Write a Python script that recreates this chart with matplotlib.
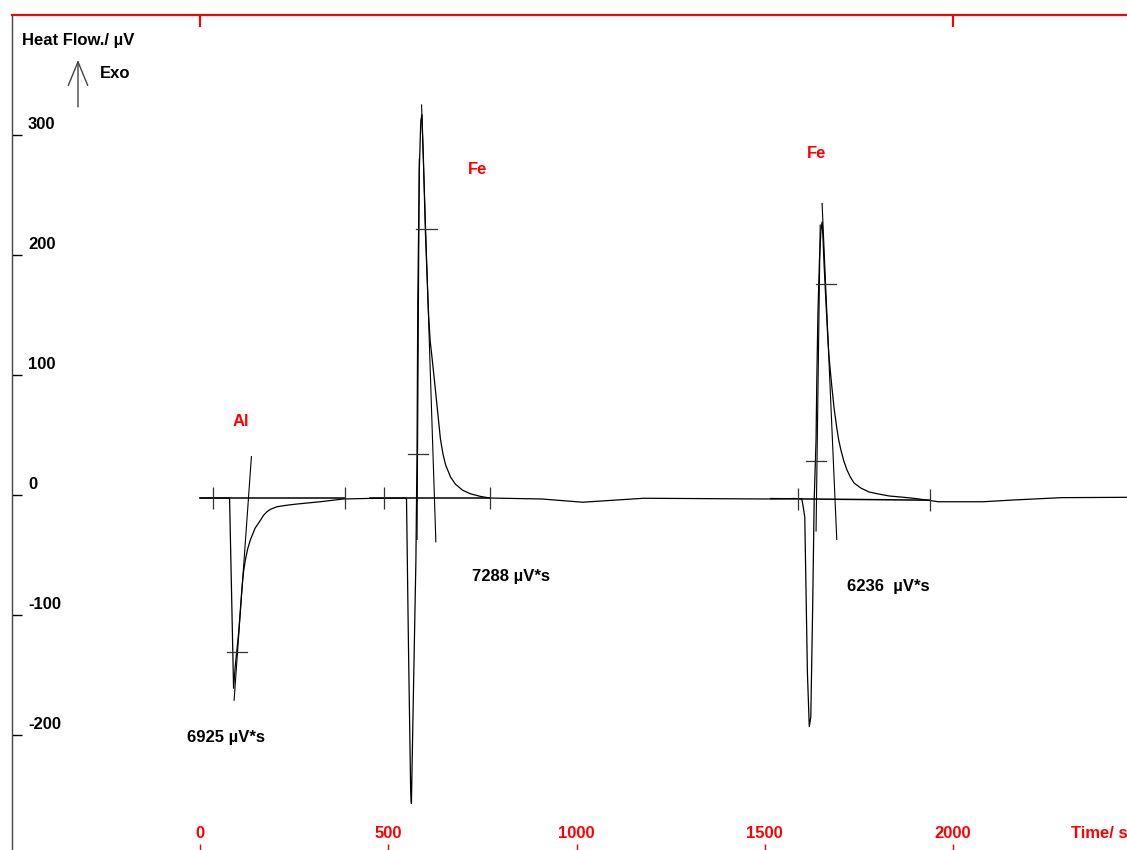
import matplotlib
matplotlib.use("Agg")
import matplotlib.pyplot as plt

plt.rcParams['font.family'] = ['Liberation Sans', 'DejaVu Sans']
plt.rcParams['font.weight'] = 'bold'

# DSC signal (time in s, heat flow in uV)
time_s = [0, 77, 78, 88.6, 93, 102, 111, 115, 120, 126, 133, 146, 160, 168, 177, 186, 204, 230, 257, 319, 380,
          452, 543, 548, 553, 559, 561, 566, 573, 576, 578, 582, 586, 589, 593, 598,
          604, 607, 611, 616, 625, 638, 645, 652, 665, 678, 697, 718, 745, 769,
          907, 1016, 1178, 1505,
          1582, 1598, 1601, 1606, 1613, 1618, 1622, 1627, 1631, 1636, 1638, 1641,
          1645, 1649, 1652, 1654, 1657, 1662, 1666, 1670, 1674, 1678, 1684, 1691, 1696, 1702, 1710, 1718,
          1727, 1737, 1755, 1777, 1803, 1830, 1862, 1896, 1939,
          1960, 2080, 2157, 2287, 2462]
heat_uV = [-2.5, -2.5, -3.3, -161, -143, -115, -77, -64, -54, -45, -37.5, -27.5, -21, -17, -14, -12, -9.75, -8.5, -7.5, -5.6, -3.3,
           -2.8, -2.5, -3.3, -121, -246, -257, -171, -54, 37.5, 162, 271, 312, 317, 279, 221,
           171, 148, 128, 114, 87, 47, 34, 25, 15, 9, 4, 1, -1.2, -2.5,
           -3.3, -6, -2.7, -3.3,
           -2.9, -3.3, -8.3, -18.3, -148, -193, -185, -93, -4.2, 46, 96, 152,
           196, 221, 227.5, 217, 194, 162, 138, 117, 103, 90, 72, 56, 46, 37.5, 28, 21,
           15, 10, 5.8, 2.5, 0.8, -0.8, -1.7, -2.75, -4.6,
           -5.6, -5.6, -4.2, -2.2, -1.9]

# evaluation lines (tangents)
tangents = [
    ([90, 136], [-171, 32]),
    ([576, 582], [-37, 280]),
    ([588, 626], [325, -39]),
    ([1636, 1647], [-30, 225]),
    ([1652, 1691], [243, -37]),
]
# baselines of the peak integration
baselines = [([0, 385], [-2.5, -2.5]), ([452, 769], [-2.5, -2.5]), ([1516, 1939], [-3.0, -4.3])]
limit_t = [35, 385, 487, 769, 1588, 1939]
limit_y = [-2.5, -2.5, -2.5, -2.5, -3.1, -4.3]
# horizontal cross marks: (y, t_start, t_end)
marks = [(-131, 72, 125), (34, 551, 604), (222, 572, 628), (28, 1609, 1662), (176, 1636, 1689)]

peak_names = ['Al', 'Fe', 'Fe']
name_t = [109, 737, 1636]
name_y = [61, 271, 285]
area_text = ['6925 µV*s', '7288 µV*s', '6236  µV*s']
area_t = [-35, 723, 1718]
area_y = [-202, -68, -76]

xticks = [0, 500, 1000, 1500, 2000]
top_ticks = [0, 2000]
yticks = [-200, -100, 0, 100, 200, 300]

fig = plt.figure(figsize=(11.27, 8.5), dpi=100)
ax = fig.add_axes([12 / 1127, 0, 1 - 12 / 1127, 835 / 850])
ax.set_xlim(-500, 2462)
ax.set_ylim(-295.8, 400)

ax.plot(time_s, heat_uV, color='black', lw=0.9)
for t, y in tangents:
    ax.plot(t, y, color='black', lw=0.8)
for t, y in baselines:
    ax.plot(t, y, color='black', lw=1.1)
ax.vlines(limit_t, [v - 9 for v in limit_y], [v + 9 for v in limit_y], color='#333333', lw=0.9)
for y, t0, t1 in marks:
    ax.plot([t0, t1], [y, y], color='#333333', lw=0.9)

for s, t, y in zip(peak_names, name_t, name_y):
    ax.text(t, y, s, color='red', fontsize=12, ha='center', va='center', fontweight='bold')
for s, t, y in zip(area_text, area_t, area_y):
    ax.text(t, y, s, color='black', fontsize=12, ha='left', va='center', fontweight='bold')

# axes styling
for side in ['right', 'bottom']:
    ax.spines[side].set_visible(False)
ax.spines['left'].set_color('#444444')
ax.spines['left'].set_linewidth(1.0)
ax.spines['top'].set_color('red')
ax.spines['top'].set_linewidth(1.5)

ax.set_xticks(xticks)
ax.set_xticklabels([])
ax.tick_params(axis='x', direction='in', length=4.3, width=1, colors='red', bottom=True, top=False)
xt = ax.get_xaxis_transform()
for v in xticks:
    ax.text(v, 17 / 835, str(v), transform=xt, color='red', fontsize=12, ha='center', va='center',
            fontweight='bold')
ax.text(2314, 17 / 835, 'Time/ s', transform=xt, color='red', fontsize=12, ha='left', va='center',
        fontweight='bold')

ax.set_yticks(yticks)
ax.set_yticklabels([])
ax.tick_params(axis='y', direction='in', length=7.2, width=1, colors='black')
yt = ax.get_yaxis_transform()
for v in yticks:
    ax.text(16 / 1115, v + 8.5, str(v), transform=yt, color='black', fontsize=12, ha='left',
            va='center', fontweight='bold')

sec = ax.secondary_xaxis('top')
sec.set_xticks(top_ticks)
sec.set_xticklabels([])
sec.tick_params(direction='in', length=8.6, width=1.5, colors='red')
sec.spines['top'].set_color('red')
sec.spines['top'].set_linewidth(1.5)

fig.text(22 / 1127, 1 - 40 / 850, 'Heat Flow./ µV', fontsize=12, fontweight='bold', va='center', ha='left')
fig.text(100 / 1127, 1 - 73 / 850, 'Exo', fontsize=12, fontweight='bold', va='center', ha='left')
ax.annotate('', xy=(78, 850 - 60), xytext=(78, 850 - 107), xycoords='figure pixels',
            textcoords='figure pixels',
            arrowprops=dict(arrowstyle='->,head_length=1.7,head_width=0.7', color='#444444', lw=1,
                            shrinkA=0, shrinkB=0))

fig.savefig('out.png', dpi=100)
